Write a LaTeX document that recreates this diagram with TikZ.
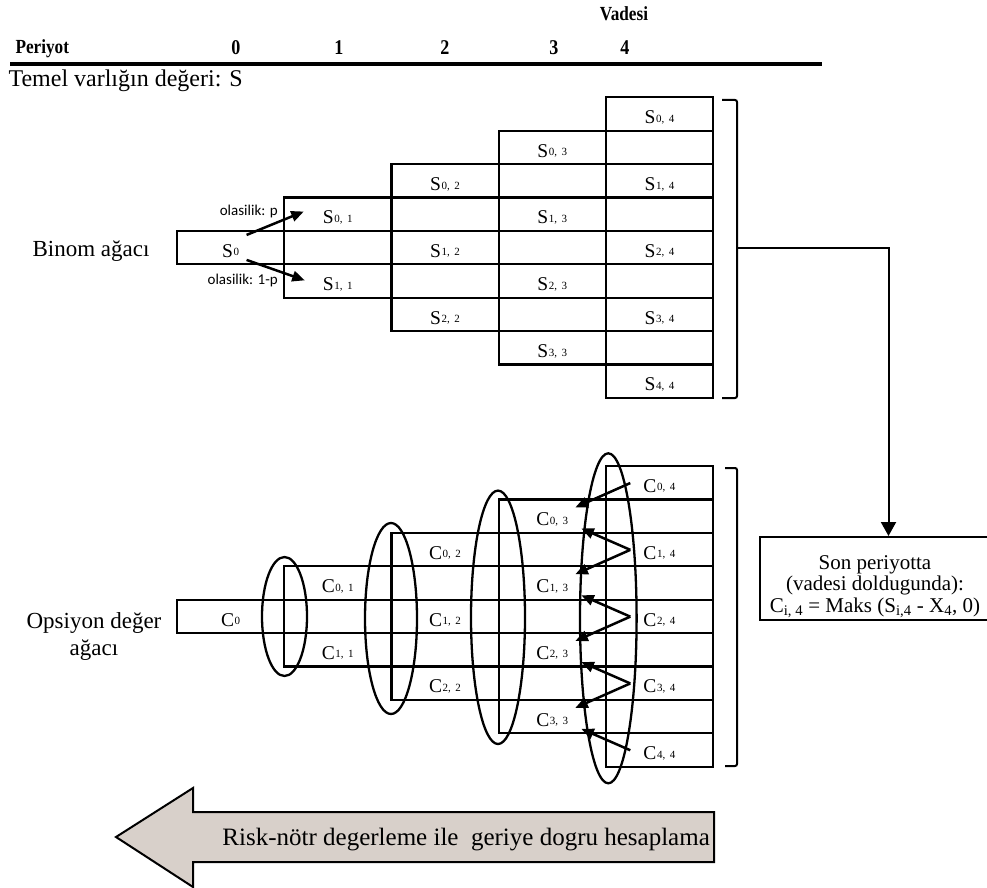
\documentclass[tikz,border=0pt]{standalone}
\usepackage{fontspec}
\setmainfont{Liberation Serif}
\newfontfamily\hdrfont[FakeStretch=0.86]{Liberation Serif}
\newfontfamily\probfont{Carlito}
\usetikzlibrary{arrows.meta}
\definecolor{backfill}{RGB}{216,208,202}
% cell label: big letter followed by small raised indices
\newcommand\cellab[2]{{\fontsize{19.5}{20}\selectfont #1}\kern0.6pt{\fontsize{11}{12}\selectfont\raisebox{1.5pt}{#2}}}
\newcommand\idx[2]{#1,\hspace{4.5pt}#2}
\begin{document}
\begin{tikzpicture}[x=1pt,y=-1pt,
  cellline/.style={line width=2.2pt},
  lab/.style={inner sep=0pt, anchor=base},
  arr/.style={line width=2.5pt, -{Triangle[length=12.5pt,width=10.5pt]}},
  brk/.style={line width=2pt, rounded corners=2pt},
  ell/.style={line width=2.3pt},
  hdr/.style={font=\hdrfont\bfseries\fontsize{20}{22}\selectfont},
  ]
\useasboundingbox (0,0) rectangle (987,888);

% header
\node[anchor=base, hdr] (vad) at (624,21) {Vadesi};
\node[anchor=base west, hdr] (per) at (12,54) {Periyot};
\foreach \d/\x in {0/236,1/339,2/445,3/554,4/625}
  \node[anchor=base, font=\hdrfont\bfseries\fontsize{21}{22}\selectfont] (t\d) at (\x,55) {\d};
\draw[line width=4pt] (10,64) -- (822,64);
\node[anchor=base west, font=\fontsize{24}{26}\selectfont] (temel) at (5,87) {Temel varlığın değeri: S};

% cell grids of both trees
\foreach \j in {0,...,4} {
  \pgfmathsetmacro\xa{177+107.2*\j}
  \pgfmathtruncatemacro\ra{4-\j}
  \pgfmathtruncatemacro\rb{4+\j}
  \foreach \r in {\ra,...,\rb} {
    \draw[cellline] (\xa,97.3+33.4*\r) rectangle ++(107.2,33.4);
    \draw[cellline] (\xa,466+33.4*\r) rectangle ++(107.2,33.4);
  }
}

% cell labels
\node[lab] (S-0-0) at (230.6,257.3) {\cellab{S}{0}};
\node[lab] (C-0-0) at (230.6,626) {\cellab{C}{0}};
\foreach \j in {1,...,4} \foreach \i in {0,...,\j} {
  \pgfmathsetmacro\cx{230.6+107.2*\j}
  \pgfmathsetmacro\yb{33.4*(5-\j+2*\i)-7}
  \node[lab] (S-\i-\j) at (\cx,97.3+\yb) {\cellab{S}{\idx{\i}{\j}}};
  \node[lab] (C-\i-\j) at (\cx,466+\yb) {\cellab{C}{\idx{\i}{\j}}};
}

% row titles
\node[anchor=base east, font=\fontsize{23}{25}\selectfont] (binom) at (153,256) {Binom ağacı};
\node[anchor=base, align=center, font=\fontsize{23}{27}\selectfont] (ops) at (94,655) {Opsiyon değer\\ağacı};

% first step of the binomial tree
\node[anchor=base east, inner sep=0pt, font=\probfont\fontsize{15}{16}\selectfont] (pup) at (278,215) {olasilik: p};
\node[anchor=base east, inner sep=0pt, font=\probfont\fontsize{15}{16}\selectfont] (pdn) at (278,284) {olasilik: 1-p};
\draw[arr] ([xshift=16pt,yshift=16pt]S-0-0.center) -- ([xshift=-19pt,yshift=6pt]S-0-1.west);
\draw[arr] ([xshift=16pt,yshift=-9pt]S-0-0.center) -- ([xshift=-18pt,yshift=4pt]S-1-1.west);

% groups of the option tree
\draw[ell] (284.5,616.5) ellipse [x radius=22.5pt, y radius=59.5pt];
\draw[ell] (391,618.5) ellipse [x radius=26pt, y radius=95.5pt];
\draw[ell] (498,617.3) ellipse [x radius=27pt, y radius=126.7pt];
\draw[ell] (608.3,618.3) ellipse [x radius=28.3pt, y radius=165pt];

% backward steps from maturity
\foreach \i in {0,...,3}
  \draw[arr] ([xshift=-13pt,yshift=3pt]C-\i-4.west) -- ([xshift=7pt,yshift=12pt]C-\i-3.east);
\foreach \i in {1,...,4} {
  \pgfmathtruncatemacro\k{\i-1}
  \draw[arr] ([xshift=-13pt,yshift=3pt]C-\i-4.west) -- ([xshift=13pt,yshift=-9pt]C-\k-3.east);
}

% brackets and payoff box
\draw[brk] (722,100) -- (737,100) -- (737,398) -- (722,398);
\coordinate (bmid) at (737,248);
\draw[brk] (725,468) -- (737,468) -- (737,766) -- (725,766);
\node[draw, line width=2pt, anchor=north west, minimum width=233pt, minimum height=83pt, inner sep=0pt] (final) at (759,536) {};
\node[anchor=north, align=center, inner sep=0pt, font=\fontsize{21}{21.5}\selectfont] (finaltxt) at (875,555)
  {Son periyotta\\(vadesi doldugunda):\\C\textsubscript{i, 4} = Maks (S\textsubscript{i,4} - X\textsubscript{4}, 0)};
\draw[line width=2pt, -{Triangle[length=14pt,width=15pt]}] (bmid) -| ([xshift=12pt]final.north);

% backward valuation arrow
\draw[fill=backfill, line width=2pt, line join=miter] (116,837) -- (193,788) -- (193,812) -- (714,812) -- (714,862) -- (193,862) -- (193,887) -- cycle;
\node[anchor=base east, inner sep=0pt, font=\fontsize{25}{27}\selectfont] (backtxt) at (710,845) {Risk-nötr degerleme ile\ \ geriye dogru hesaplama};
\end{tikzpicture}
\end{document}
